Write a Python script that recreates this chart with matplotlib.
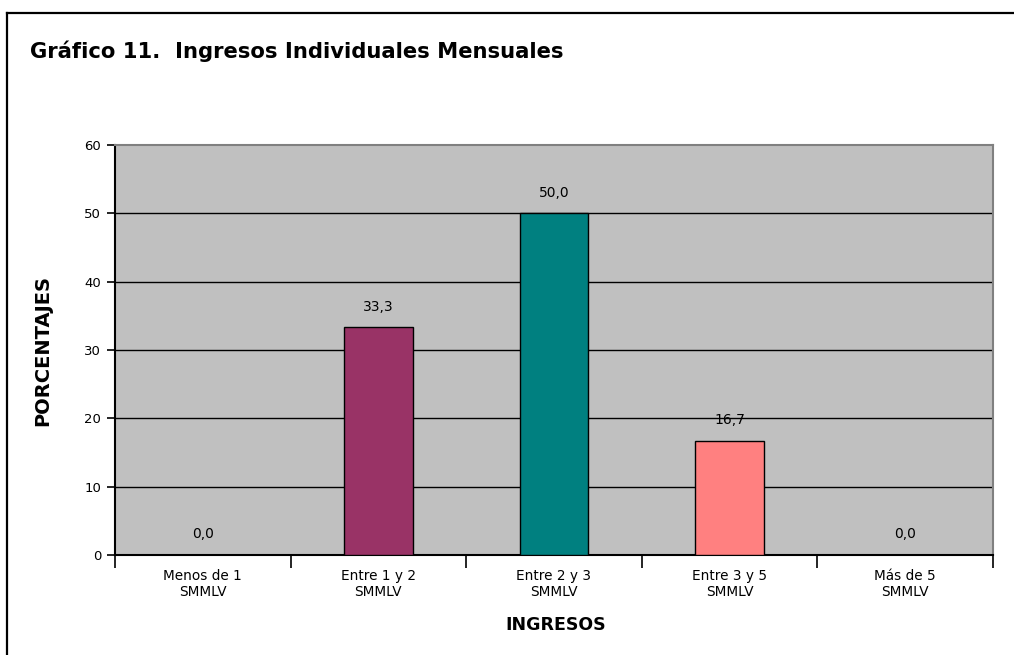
import matplotlib
matplotlib.use("Agg")
import matplotlib.pyplot as plt
from matplotlib.lines import Line2D

categories = ["Menos de 1\nSMMLV", "Entre 1 y 2\nSMMLV", "Entre 2 y 3\nSMMLV",
              "Entre 3 y 5\nSMMLV", "Más de 5\nSMMLV"]
values = [0.0, 33.3, 50.0, 16.7, 0.0]
colors = ["#993366", "#993366", "#008080", "#FF8080", "#FF8080"]
yticks = [0, 10, 20, 30, 40, 50, 60]

plt.rcParams["font.family"] = ["DejaVu Sans"]

W, H = 1014, 655
fig = plt.figure(figsize=(W / 100, H / 100), dpi=100)
fig.patch.set_facecolor("white")

# outer frame (top and left edges visible, continues past the image)
fig.add_artist(Line2D([7 / W, 7 / W], [0, 1 - 12.5 / H], color="black", lw=1.6,
                      transform=fig.transFigure))
fig.add_artist(Line2D([7 / W, 1], [1 - 12.5 / H, 1 - 12.5 / H], color="black", lw=1.6,
                      transform=fig.transFigure))

left, right, top, bottom = 115, 993, 145, 555
ax = fig.add_axes([left / W, 1 - bottom / H, (right - left) / W, (bottom - top) / H])
ax.set_facecolor("#C0C0C0")

x = list(range(len(categories)))
ax.bar(x, values, width=0.39, color=colors, edgecolor="black", linewidth=1.0, zorder=3)
for xi, v in zip(x, values):
    ax.text(xi, v + 3.0, f"{v:.1f}".replace(".", ","), ha="center", va="center",
            fontsize=10, zorder=4)

ax.set_xlim(-0.5, len(categories) - 0.5)
ax.set_ylim(0, 60)
ax.set_yticks(yticks)
ax.set_yticklabels([str(t) for t in yticks], fontsize=9.5)
for t in yticks[1:-1]:
    ax.axhline(t, color="black", lw=1.0, zorder=1)

ax.set_xticks([i - 0.5 for i in range(len(categories) + 1)])
ax.set_xticklabels([])
ax.set_xticks(x, minor=True)
ax.set_xticklabels(categories, minor=True, fontsize=9.8, linespacing=1.15)
ax.tick_params(axis="x", which="minor", length=0, pad=10)
ax.tick_params(axis="x", which="major", length=9, width=1.2, direction="out")
ax.tick_params(axis="y", length=6, width=1.2, direction="out", pad=4)

for s in ["top", "right"]:
    ax.spines[s].set_color("#808080")
    ax.spines[s].set_linewidth(1.5)
for s in ["left", "bottom"]:
    ax.spines[s].set_color("black")
    ax.spines[s].set_linewidth(1.5)

fig.text(556 / W, 1 - 625 / H, "INGRESOS", fontsize=12.5, fontweight="bold",
         ha="center", va="center")
fig.text(43 / W, 1 - 350 / H, "PORCENTAJES", fontsize=14, fontweight="bold",
         ha="center", va="center", rotation=90)

fig.text(30 / W, 1 - 51 / H, "Gráfico 11.  Ingresos Individuales Mensuales",
         fontsize=15.2, fontweight="bold", ha="left", va="center")

fig.savefig("out.png", dpi=100)
